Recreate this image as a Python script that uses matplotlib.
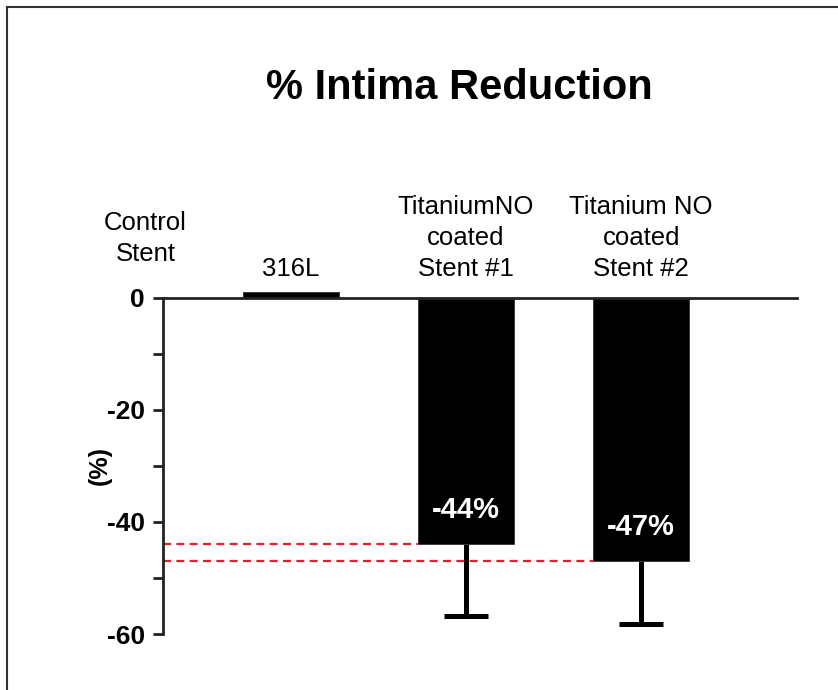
import matplotlib
matplotlib.use("Agg")
import matplotlib.pyplot as plt
from matplotlib.lines import Line2D
from matplotlib import transforms

plt.rcParams['font.family'] = ['Liberation Sans', 'DejaVu Sans']

categories = ["316L", "TitaniumNO\ncoated\nStent #1", "Titanium NO\ncoated\nStent #2"]
values = [1.0, -44.0, -47.0]
errors = [0.0, 12.7, 11.2]
value_labels = ["", "-44%", "-47%"]
y_ticks = [0, -20, -40, -60]
y_minor = [-10, -30, -50]
ref_values = [-44.0, -47.0]   # red dashed reference lines
ref_targets = [1, 2]           # bar index each dashed line runs up to

fig = plt.figure(figsize=(8.38, 6.90), dpi=100)
ax = fig.add_axes([163/838, 1-634/690, 634/838, 336/690])

x = list(range(len(categories)))
bw = 0.55
ax.bar(x, values, width=bw, color='black', edgecolor='#333333', linewidth=0.6,
       zorder=3, clip_on=False)

# lower error bars only
for xi, v, e in zip(x, values, errors):
    if e > 0:
        ax.vlines(xi, v - e, v, color='black', lw=3.6, zorder=2)
        ax.plot([xi], [v - e], marker='_', ms=31, mew=3.6, color='black',
                zorder=2, clip_on=False)

ax.set_xlim(-0.73, 2.89)
ax.set_ylim(-60, 0)

# zero line across
ax.axhline(0, color='#222222', lw=2.0, zorder=4, clip_on=False)

# red dashed reference lines
for rv, ti in zip(ref_values, ref_targets):
    ax.plot([-0.73, x[ti] - bw/2], [rv, rv], color='#e8202a', lw=1.6,
            ls=(0, (3.6, 2.4)), zorder=2.5, clip_on=False)

# value labels inside bars
for xi, v, lab in zip(x, values, value_labels):
    if lab:
        ax.text(xi, v + 6.1, lab, ha='center', va='center', color='white',
                fontsize=21, fontweight='bold', zorder=5)

# category labels above
for xi, lab in zip(x, categories):
    ax.text(xi, 3.0, lab, ha='center', va='bottom', fontsize=18.5,
            linespacing=1.38, clip_on=False)
ax.text(-0.83, 5.7, "Control\nStent", ha='center', va='bottom', fontsize=18.5,
        linespacing=1.38, clip_on=False)

# y axis styling
for s in ['top', 'right', 'bottom']:
    ax.spines[s].set_visible(False)
ax.spines['left'].set_linewidth(2.0)
ax.spines['left'].set_color('#222222')
ax.set_xticks([])
ax.set_yticks(y_ticks)
ax.set_yticks(y_minor, minor=True)
ax.set_yticklabels([str(t) for t in y_ticks], fontsize=19, fontweight='bold')
ax.tick_params(axis='y', which='both', length=7, width=2, color='#222222', pad=6)

trans = transforms.blended_transform_factory(ax.transAxes, ax.transData)
ax.text(-0.099, -30, "(%)", rotation=90, ha='center', va='center',
        fontsize=18, fontweight='bold', transform=trans)

fig.text(459/838, 1-88/690, "% Intima Reduction", ha='center', va='center',
         fontsize=30, fontweight='bold')

# figure border (top and left visible)
fig.add_artist(Line2D([7/838, 1.0], [1-7/690, 1-7/690], transform=fig.transFigure,
                      color='#333333', lw=1.5))
fig.add_artist(Line2D([7/838, 7/838], [0, 1-7/690], transform=fig.transFigure,
                      color='#333333', lw=1.5))

fig.savefig("out.png", dpi=100)
